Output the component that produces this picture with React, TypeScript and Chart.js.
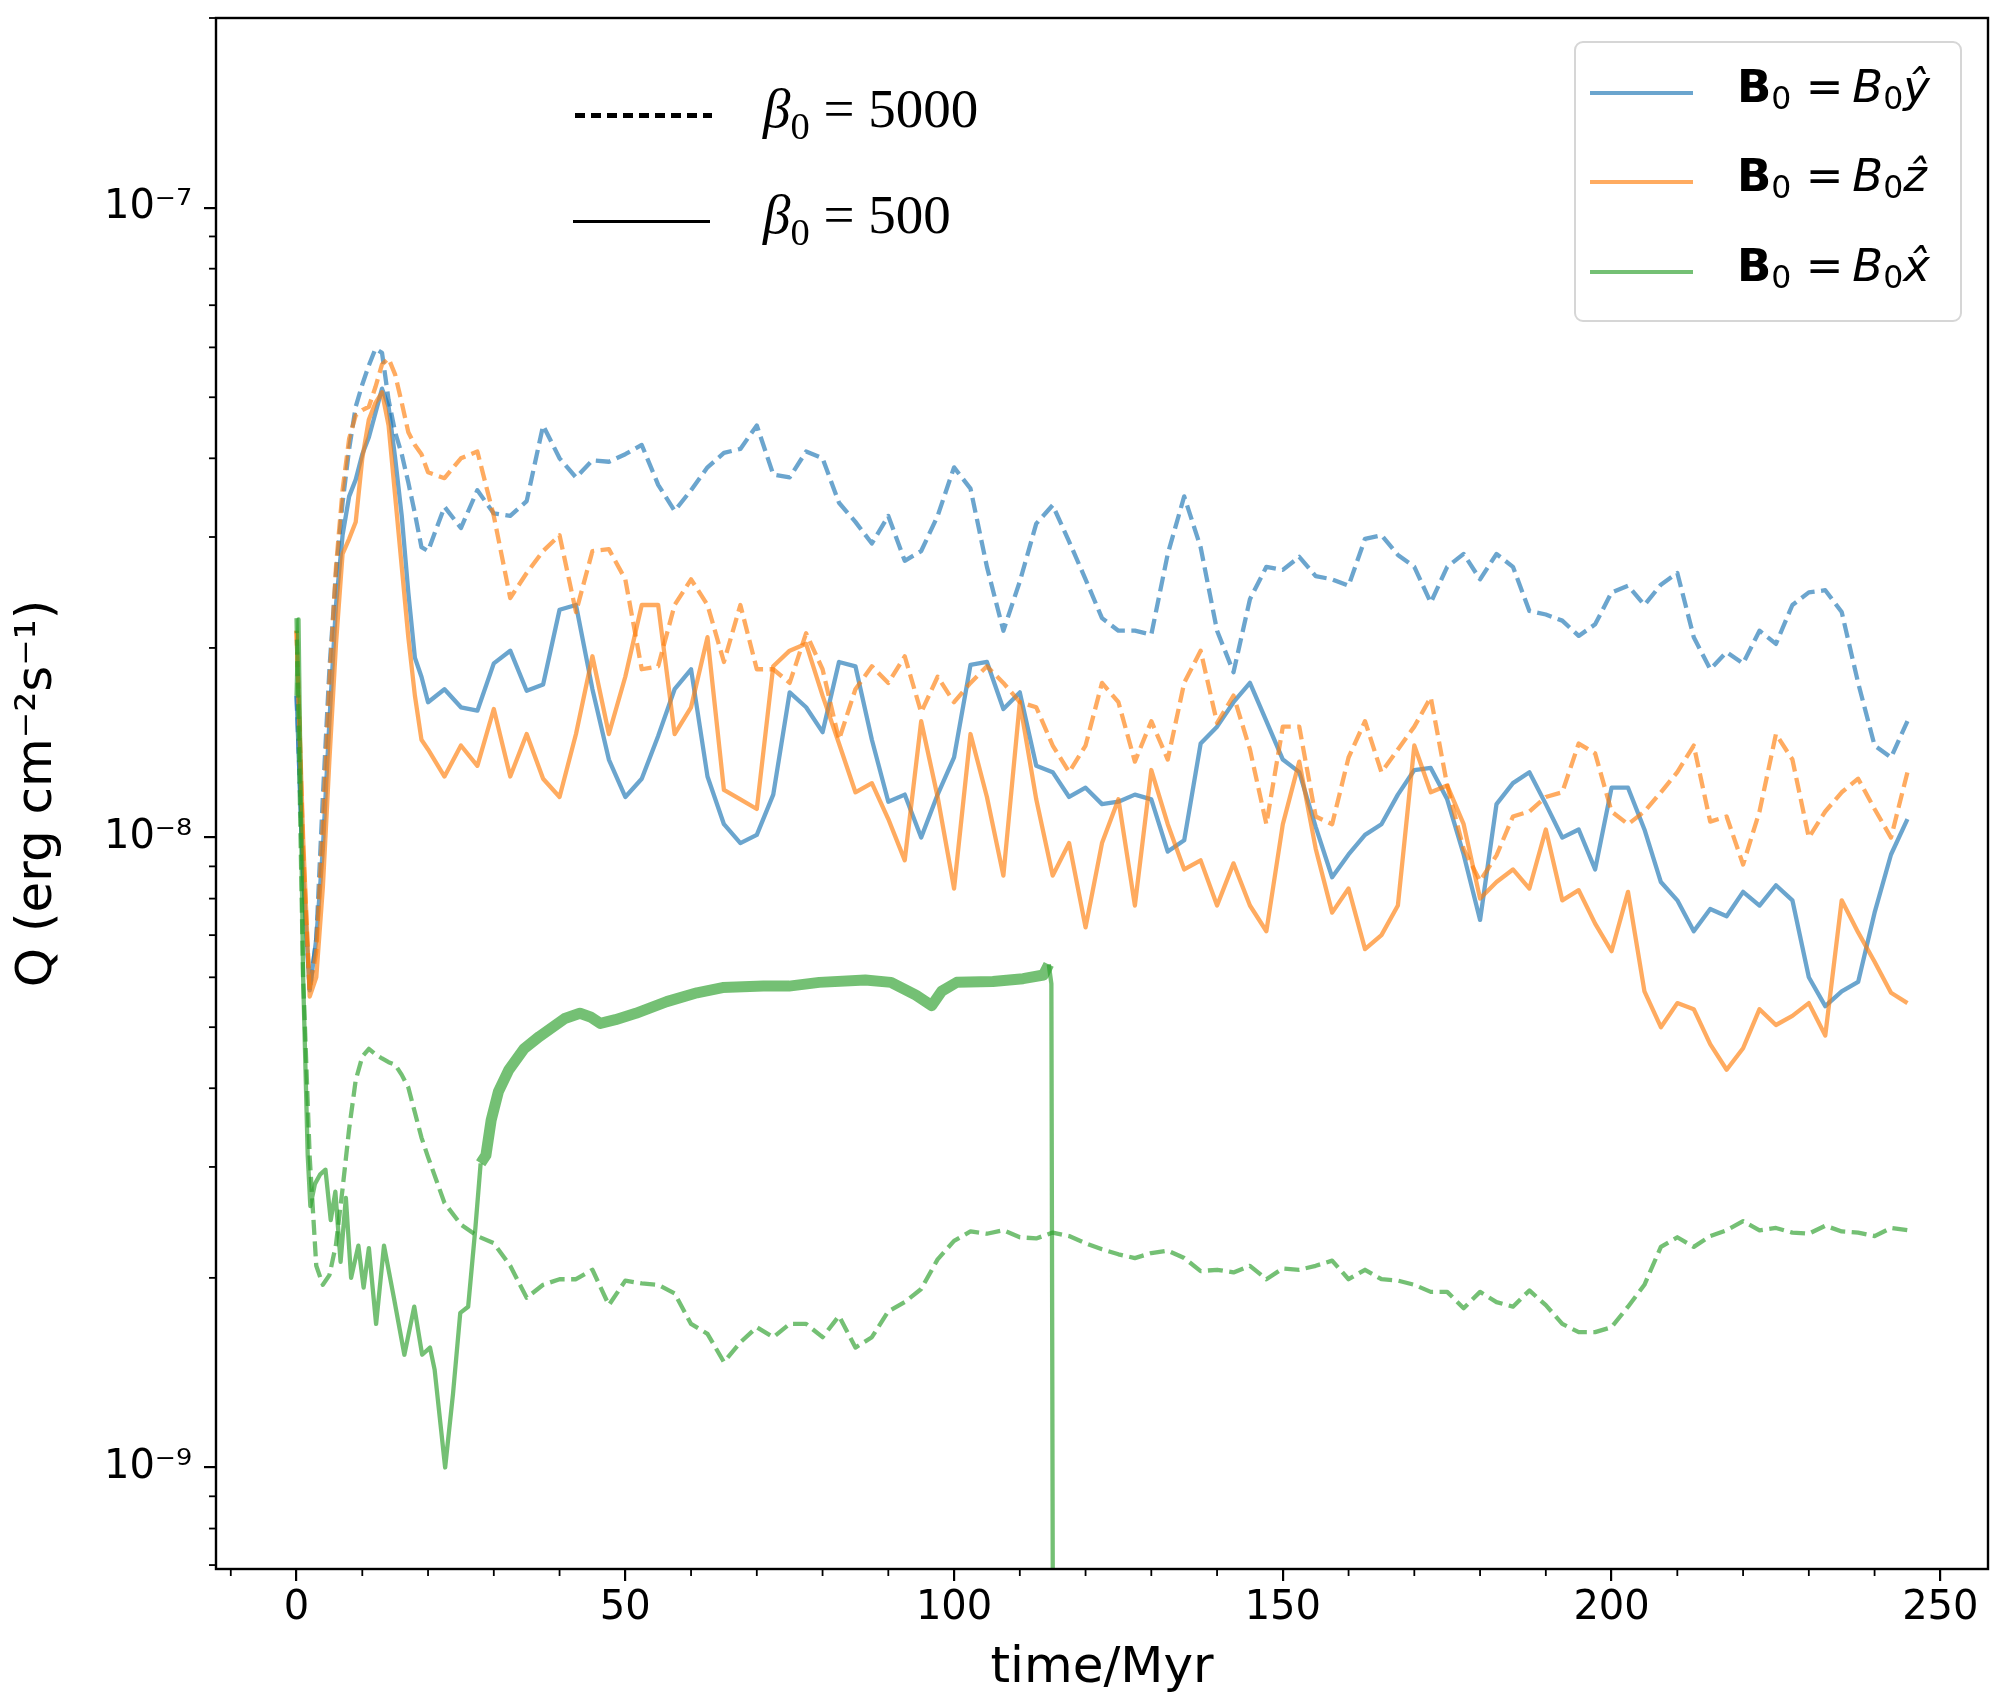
import { useEffect, useRef } from "react"
import type { CSSProperties } from "react"
import { Chart, registerables } from "chart.js"

Chart.register(...registerables)

// Q in units of 1e-8 erg cm^-2 s^-1
const UNIT = 1e-8

// shared time grid (Myr)
const times = [
  0, 1, 2, 3, 4, 5, 6, 7, 8, 9, 10, 11, 12, 13, 14, 15, 16, 17, 18, 19, 20,
  22.5, 25, 27.5, 30, 32.5, 35, 37.5, 40, 42.5, 45, 47.5, 50,
  52.5, 55, 57.5, 60, 62.5, 65, 67.5, 70, 72.5, 75, 77.5, 80,
  82.5, 85, 87.5, 90, 92.5, 95, 97.5, 100, 102.5, 105, 107.5, 110,
  112.5, 115, 117.5, 120, 122.5, 125, 127.5, 130, 132.5, 135, 137.5, 140,
  142.5, 145, 147.5, 150, 152.5, 155, 157.5, 160, 162.5, 165, 167.5, 170,
  172.5, 175, 177.5, 180, 182.5, 185, 187.5, 190, 192.5, 195, 197.5, 200,
  202.5, 205, 207.5, 210, 212.5, 215, 217.5, 220, 222.5, 225, 227.5, 230,
  232.5, 235, 237.5, 240, 242.5, 245,
]

// B0 along y, beta0 = 500 (solid)
const ySolid = [
  1.68, 0.873, 0.572, 0.69, 0.959, 1.53, 2.34, 3.02, 3.48, 3.7, 4.06, 4.32, 4.72, 5.16, 4.83, 4.0, 3.24, 2.45, 1.93, 1.8, 1.64,
  1.72, 1.61, 1.59, 1.89, 1.98, 1.71, 1.75, 2.3, 2.34, 1.72, 1.33, 1.16,
  1.24, 1.45, 1.72, 1.85, 1.25, 1.05, 0.98, 1.01, 1.17, 1.7, 1.61, 1.47,
  1.9, 1.87, 1.43, 1.14, 1.17, 1.0, 1.17, 1.34, 1.88, 1.9, 1.6, 1.7,
  1.3, 1.27, 1.16, 1.2, 1.13, 1.14, 1.17, 1.15, 0.95, 0.99, 1.41, 1.5,
  1.64, 1.76, 1.53, 1.33, 1.27, 1.04, 0.865, 0.94, 1.01, 1.05, 1.17, 1.28,
  1.29, 1.15, 0.94, 0.74, 1.13, 1.22, 1.27, 1.13, 1.0, 1.03, 0.89, 1.2,
  1.2, 1.03, 0.85, 0.795, 0.71, 0.77, 0.75, 0.82, 0.78, 0.84, 0.795, 0.6,
  0.54, 0.57, 0.59, 0.76, 0.94, 1.07,
]

// B0 along y, beta0 = 5000 (dashed)
const yDashed = [
  1.68, 0.873, 0.572, 0.69, 1.16, 1.85, 2.63, 3.4, 4.14, 4.83, 5.24, 5.62, 5.97, 5.88, 4.95, 4.4, 4.06, 3.66, 3.27, 2.89, 2.85,
  3.35, 3.1, 3.56, 3.27, 3.24, 3.42, 4.51, 4.0, 3.73, 3.97, 3.95, 4.06,
  4.2, 3.63, 3.3, 3.56, 3.87, 4.08, 4.14, 4.51, 3.77, 3.73, 4.1, 4.0,
  3.4, 3.17, 2.93, 3.24, 2.75, 2.85, 3.24, 3.87, 3.58, 2.69, 2.13, 2.55,
  3.15, 3.37, 2.95, 2.57, 2.23, 2.13, 2.13, 2.1, 2.82, 3.48, 2.89, 2.13,
  1.83, 2.39, 2.69, 2.66, 2.79, 2.6, 2.57, 2.51, 2.98, 3.02, 2.81, 2.69,
  2.36, 2.69, 2.82, 2.57, 2.82, 2.69, 2.29, 2.26, 2.21, 2.09, 2.18, 2.45,
  2.51, 2.34, 2.52, 2.63, 2.08, 1.85, 1.97, 1.89, 2.13, 2.03, 2.34, 2.45,
  2.47, 2.28, 1.76, 1.4, 1.34, 1.53,
]

// B0 along z, beta0 = 500 (solid)
const zSolid = [
  2.13, 1.0, 0.559, 0.6, 0.833, 1.33, 2.03, 2.82, 2.98, 3.17, 4.0, 4.61, 4.9, 5.09, 4.51, 3.48, 2.69, 2.08, 1.68, 1.43, 1.38,
  1.25, 1.4, 1.3, 1.6, 1.25, 1.46, 1.24, 1.16, 1.46, 1.94, 1.46, 1.8,
  2.34, 2.34, 1.46, 1.61, 2.08, 1.19, 1.15, 1.11, 1.87, 1.98, 2.03, 1.68,
  1.41, 1.18, 1.22, 1.07, 0.92, 1.53, 1.16, 0.83, 1.46, 1.16, 0.87, 1.64,
  1.15, 0.87, 0.98, 0.72, 0.98, 1.15, 0.78, 1.28, 1.05, 0.89, 0.92, 0.78,
  0.91, 0.78, 0.71, 1.05, 1.32, 0.96, 0.76, 0.83, 0.665, 0.7, 0.78, 1.4,
  1.18, 1.21, 1.05, 0.8, 0.85, 0.89, 0.83, 1.03, 0.795, 0.825, 0.73, 0.66,
  0.82, 0.57, 0.5, 0.546, 0.534, 0.47, 0.428, 0.463, 0.534, 0.504, 0.521, 0.546,
  0.485, 0.795, 0.707, 0.635, 0.567, 0.546,
]

// B0 along z, beta0 = 5000 (dashed)
const zDashed = [
  2.13, 0.959, 0.572, 0.659, 1.05, 1.76, 2.69, 3.56, 4.3, 4.68, 4.77, 4.83, 5.19, 5.64, 5.76, 5.43, 4.9, 4.4, 4.2, 4.06, 3.8,
  3.72, 4.0, 4.1, 3.24, 2.4, 2.63, 2.85, 3.02, 2.28, 2.85, 2.87, 2.57,
  1.85, 1.87, 2.34, 2.57, 2.34, 1.9, 2.34, 1.85, 1.85, 1.76, 2.11, 1.85,
  1.43, 1.72, 1.87, 1.76, 1.94, 1.58, 1.8, 1.64, 1.76, 1.87, 1.76, 1.64,
  1.61, 1.4, 1.27, 1.4, 1.76, 1.64, 1.32, 1.53, 1.33, 1.76, 1.98, 1.52,
  1.68, 1.38, 1.05, 1.5, 1.5, 1.08, 1.05, 1.34, 1.53, 1.27, 1.38, 1.5,
  1.67, 1.21, 0.959, 0.853, 0.937, 1.08, 1.1, 1.16, 1.18, 1.41, 1.36, 1.1,
  1.05, 1.1, 1.18, 1.27, 1.4, 1.06, 1.08, 0.906, 1.1, 1.46, 1.33, 1.0,
  1.1, 1.18, 1.24, 1.11, 1.0, 1.27,
]

// B0 along x, beta0 = 5000 (dashed)
const xDashed = [
  2.23, 0.6, 0.311, 0.209, 0.195, 0.202, 0.226, 0.277, 0.345, 0.412, 0.449, 0.462, 0.453, 0.446, 0.44, 0.436, 0.42, 0.401, 0.366, 0.334, 0.311,
  0.263, 0.243, 0.233, 0.227, 0.209, 0.186, 0.195, 0.199, 0.199, 0.206, 0.181, 0.198,
  0.196, 0.195, 0.189, 0.169, 0.163, 0.147, 0.158, 0.167, 0.161, 0.169, 0.169, 0.161,
  0.174, 0.155, 0.161, 0.177, 0.183, 0.192, 0.214, 0.229, 0.237, 0.235, 0.238, 0.232,
  0.231, 0.236, 0.233, 0.227, 0.222, 0.218, 0.215, 0.219, 0.221, 0.215, 0.205, 0.206,
  0.204, 0.209, 0.199, 0.207, 0.206, 0.209, 0.213, 0.199, 0.206, 0.199, 0.198, 0.195,
  0.19, 0.19, 0.179, 0.19, 0.183, 0.18, 0.191, 0.181, 0.169, 0.164, 0.164, 0.167,
  0.18, 0.195, 0.224, 0.232, 0.224, 0.233, 0.238, 0.246, 0.238, 0.24, 0.236, 0.235,
  0.242, 0.237, 0.236, 0.233, 0.24, 0.238,
]

// B0 along x, beta0 = 500 (solid) -- own time samples, run stops at ~115 Myr
const xSolidTimes = [
  0, 0.3, 1, 1.7, 2.1, 2.8, 3.6, 4.4, 5.2, 5.9, 6.7, 7.5, 8.3, 9.4, 10.2,
  11, 12.1, 13.3, 14.8, 16.4, 17.9, 19.1, 20.3, 21, 22.6, 23.8, 24.9, 26.1, 27.2, 28,
  28.8, 29.6, 30.7, 32.3, 34.6, 36.9, 40.8, 43.1, 44.7, 46.2, 48.5, 51.6, 56.3, 60.9, 64.8,
  71, 74.9, 79.5, 86.5, 90.4, 94.2, 96.6, 98.1, 100.4, 105.9, 110.5, 113.6, 114.4, 114.8, 115.2,
]
const xSolid = [
  1.68, 2.22, 0.6, 0.313, 0.26, 0.282, 0.292, 0.297, 0.247, 0.274, 0.212, 0.268, 0.2, 0.225, 0.193,
  0.223, 0.169, 0.225, 0.186, 0.151, 0.18, 0.151, 0.155, 0.143, 0.1, 0.131, 0.176, 0.18, 0.24, 0.304,
  0.313, 0.356, 0.395, 0.428, 0.462, 0.483, 0.516, 0.526, 0.519, 0.507, 0.514, 0.526, 0.549, 0.567, 0.578,
  0.581, 0.581, 0.589, 0.594, 0.589, 0.562, 0.541, 0.57, 0.589, 0.591, 0.597, 0.605, 0.629, 0.586, 0.01,
]

const xTicks = [0, 50, 100, 150, 200, 250]
const yTicks = [1e-9, 1e-8, 1e-7]
const yTickLabels = ["10⁻⁹", "10⁻⁸", "10⁻⁷"]

const legendHats = ["ŷ", "ẑ", "x̂"]
const betaValues = ["5000", "500"]

const BLUE = "rgba(31, 119, 180, 0.66)"
const ORANGE = "rgba(255, 127, 14, 0.66)"
const GREEN = "rgba(44, 160, 44, 0.66)"
const legendColors = [BLUE, ORANGE, GREEN]

const X_MIN = -12.25
const X_MAX = 257.25
const Y_MIN = 6.9e-10
const Y_MAX = 2.0e-7

const LW = 4.3
const DASH = [15, 6.5]
const SANS = "DejaVu Sans"

const toPoints = (ts: number[], vs: number[]) => ts.map((t, i) => ({ x: t, y: vs[i] * UNIT }))

// frame on all four sides plus minor tick marks
const framePlugin = {
  id: "frame",
  afterDatasetsDraw(chart: Chart) {
    const { ctx, chartArea: a, scales } = chart
    ctx.save()
    ctx.strokeStyle = "#000"
    ctx.lineWidth = 1.8
    for (let v = -10; v <= 250; v += 10) {
      if (v % 50 === 0) continue
      const px = scales.x.getPixelForValue(v)
      ctx.beginPath()
      ctx.moveTo(px, a.bottom)
      ctx.lineTo(px, a.bottom + 7)
      ctx.stroke()
    }
    for (let d = -10; d <= -7; d++) {
      for (let k = 2; k <= 9; k++) {
        const v = k * Math.pow(10, d)
        if (v < Y_MIN || v > Y_MAX) continue
        const py = scales.y.getPixelForValue(v)
        ctx.beginPath()
        ctx.moveTo(a.left, py)
        ctx.lineTo(a.left - 7, py)
        ctx.stroke()
      }
    }
    ctx.lineWidth = 2.4
    ctx.strokeRect(a.left, a.top, a.right - a.left, a.bottom - a.top)
    ctx.restore()
  },
}

function QChart() {
  const chartRef = useRef<HTMLCanvasElement>(null)
  const chartInstance = useRef<Chart | null>(null)

  useEffect(() => {
    if (!chartRef.current) return
    if (chartInstance.current) chartInstance.current.destroy()
    const ctx = chartRef.current.getContext("2d")
    if (!ctx) return

    const line = { pointRadius: 0, borderWidth: LW, tension: 0, borderJoinStyle: "round" as const, fill: false }

    chartInstance.current = new Chart(ctx, {
      type: "line",
      data: {
        datasets: [
          { ...line, label: "x, 500", data: toPoints(xSolidTimes, xSolid), borderColor: GREEN,
            segment: { borderWidth: (c: any) => (c.p0.parsed.x >= 28 && c.p1.parsed.x <= 114.5 ? 11 : LW) } },
          { ...line, label: "x, 5000", data: toPoints(times, xDashed), borderColor: GREEN, borderDash: DASH },
          { ...line, label: "z, 500", data: toPoints(times, zSolid), borderColor: ORANGE },
          { ...line, label: "z, 5000", data: toPoints(times, zDashed), borderColor: ORANGE, borderDash: DASH },
          { ...line, label: "y, 500", data: toPoints(times, ySolid), borderColor: BLUE },
          { ...line, label: "y, 5000", data: toPoints(times, yDashed), borderColor: BLUE, borderDash: DASH },
        ],
      },
      options: {
        animation: false,
        responsive: true,
        maintainAspectRatio: false,
        layout: { padding: { left: 0, right: 24, top: 18, bottom: 0 } },
        plugins: {
          legend: { display: false },
          tooltip: { enabled: false },
        },
        scales: {
          x: {
            type: "linear",
            min: X_MIN,
            max: X_MAX,
            afterBuildTicks: (s: any) => {
              s.ticks = xTicks.map((v) => ({ value: v }))
            },
            afterFit: (s: any) => {
              s.height = 137
              s.paddingLeft = 0
              s.paddingRight = 0
            },
            grid: { drawOnChartArea: false, drawTicks: true, tickLength: 12, color: "#000", lineWidth: 2.2 },
            border: { display: false },
            ticks: {
              color: "#000",
              font: { family: SANS, size: 40 },
              padding: 4,
              maxRotation: 0,
              autoSkip: false,
              callback: (v: any) => String(v),
            },
            title: {
              display: true,
              text: "time/Myr",
              color: "#000",
              font: { family: SANS, size: 50 },
              padding: { top: 0, bottom: 7 },
            },
          },
          y: {
            type: "logarithmic",
            min: Y_MIN,
            max: Y_MAX,
            afterBuildTicks: (s: any) => {
              s.ticks = yTicks.map((v) => ({ value: v }))
            },
            afterFit: (s: any) => {
              s.width = 216
              s.paddingTop = 0
              s.paddingBottom = 0
            },
            grid: { drawOnChartArea: false, drawTicks: true, tickLength: 12, color: "#000", lineWidth: 2.2 },
            border: { display: false },
            ticks: {
              color: "#000",
              font: { family: SANS, size: 40 },
              padding: 12,
              autoSkip: false,
              callback: (_v: any, i: number) => yTickLabels[i],
            },
            title: {
              display: true,
              text: "Q (erg cm⁻²s⁻¹)",
              color: "#000",
              font: { family: SANS, size: 50 },
              padding: { top: 8, bottom: 0 },
            },
          },
        },
      },
      plugins: [framePlugin],
    })

    return () => {
      if (chartInstance.current) {
        chartInstance.current.destroy()
        chartInstance.current = null
      }
    }
  }, [])

  return <canvas ref={chartRef} />
}

const sub: CSSProperties = { fontSize: "0.7em", position: "relative", top: "0.22em" }

function FieldLegend() {
  const rowY = [50, 139, 229]
  return (
    <div
      style={{
        position: "absolute",
        left: 1574,
        top: 41,
        width: 388,
        height: 281,
        boxSizing: "border-box",
        border: "2px solid #d6d6d6",
        borderRadius: 9,
        background: "rgba(255,255,255,0.8)",
      }}
    >
      {legendHats.map((hat, i) => (
        <div key={hat}>
          <div
            style={{ position: "absolute", left: 14, top: rowY[i] - 2, width: 103, height: 4, background: legendColors[i] }}
          />
          <div
            style={{
              position: "absolute",
              left: 161,
              top: rowY[i] - 36,
              height: 60,
              lineHeight: "60px",
              fontFamily: SANS,
              fontSize: 45,
              color: "#000",
              whiteSpace: "nowrap",
            }}
          >
            <span style={{ fontWeight: 700 }}>B</span>
            <span style={sub}>0</span>
            <span>{" =\u2009"}</span>
            <span style={{ fontStyle: "italic" }}>B</span>
            <span style={sub}>0</span>
            <span style={{ fontStyle: "italic" }}>{hat}</span>
          </div>
        </div>
      ))}
    </div>
  )
}

function BetaLegend() {
  const rowY = [115, 221]
  return (
    <>
      <div
        style={{
          position: "absolute",
          left: 575,
          top: rowY[0] - 2.5,
          width: 137,
          height: 5,
          background: "repeating-linear-gradient(to right, #000 0 10px, transparent 10px 16px)",
        }}
      />
      <div style={{ position: "absolute", left: 573, top: rowY[1] - 1.5, width: 137, height: 3, background: "#000" }} />
      {betaValues.map((b, i) => (
        <div
          key={b}
          style={{
            position: "absolute",
            left: 763,
            top: rowY[i] - 38,
            height: 64,
            lineHeight: "64px",
            fontFamily: "'Liberation Serif', serif",
            fontSize: 55,
            color: "#000",
            whiteSpace: "nowrap",
          }}
        >
          <span style={{ fontStyle: "italic" }}>β</span>
          <span style={{ fontSize: "0.7em", position: "relative", top: "0.3em" }}>0</span>
          <span> = {b}</span>
        </div>
      ))}
    </>
  )
}

export default function App() {
  return (
    <div style={{ position: "absolute", left: 0, top: 0, width: 2012, height: 1706, background: "#fff" }}>
      <div style={{ position: "absolute", left: 0, top: 0, width: 2012, height: 1706 }}>
        <QChart />
      </div>
      <BetaLegend />
      <FieldLegend />
    </div>
  )
}
